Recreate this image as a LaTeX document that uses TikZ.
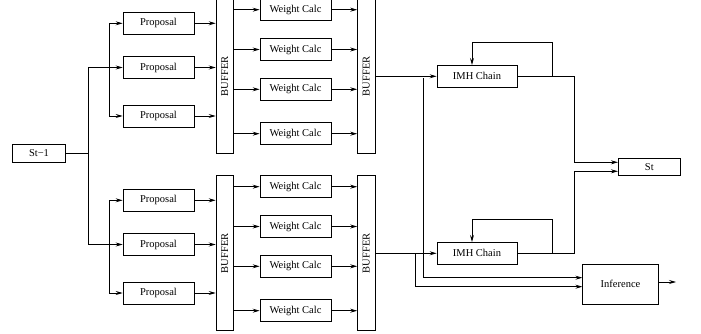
\documentclass[tikz,border=0pt]{standalone}
\usepackage{fontspec}
\setmainfont{Liberation Serif}
\usetikzlibrary{arrows.meta,calc,positioning}
\tikzset{
  blk/.style={draw,line width=.75pt,minimum height=22pt,inner sep=0pt,font=\fontsize{10.5}{12}\selectfont},
  prop/.style={blk,minimum width=71pt},
  wcalc/.style={blk,minimum width=71pt},
  buf/.style={blk,minimum width=17.5pt,minimum height=155pt},
  imh/.style={blk,minimum width=80pt},
  arr/.style={line width=.75pt,-{Stealth[length=7pt,width=4pt,inset=2.5pt]}},
  ln/.style={line width=.75pt}
}
\begin{document}
\begin{tikzpicture}[x=1pt,y=-1pt]
\useasboundingbox (0,0) rectangle (701,334);
% source state
\node[blk,minimum width=53.5pt,minimum height=18.4pt] (st0) at (39,153.5) {St−1};
% upper and lower particle groups
\foreach \g/\dy in {a/0,b/177}{
  \node[prop] (prop-\g1) at (158.5,23.3+\dy) {Proposal};
  \node[prop] (prop-\g2) at (158.5,67.5+\dy) {Proposal};
  \node[prop] (prop-\g3) at (158.5,116+\dy) {Proposal};
  \node[buf] (buf-\g1) at (224.8,76.2+\dy) {\rotatebox{90}{BUFFER}};
  \node[wcalc] (wc-\g1) at (295.5,9.7+\dy) {Weight Calc};
  \node[wcalc] (wc-\g2) at (295.5,49.5+\dy) {Weight Calc};
  \node[wcalc] (wc-\g3) at (295.5,89.3+\dy) {Weight Calc};
  \node[wcalc] (wc-\g4) at (295.5,133.7+\dy) {Weight Calc};
  \node[buf] (buf-\g2) at (366.3,76.2+\dy) {\rotatebox{90}{BUFFER}};
  \node[imh] (imh-\g) at (477,76.3+\dy) {IMH Chain};
  % fan out to the proposals
  \draw[arr] ([xshift=-13pt]prop-\g2.west) |- (prop-\g1.west);
  \draw[arr] ([xshift=-13pt]prop-\g2.west) |- (prop-\g3.west);
  \foreach \i in {1,2,3}
    \draw[arr] (prop-\g\i.east) -- (prop-\g\i.east -| buf-\g1.west);
  \foreach \i in {1,...,4}{
    \draw[arr] (wc-\g\i.west -| buf-\g1.east) -- (wc-\g\i.west);
    \draw[arr] (wc-\g\i.east) -- (wc-\g\i.east -| buf-\g2.west);
  }
  \draw[arr] (buf-\g2.east |- imh-\g.west) -- (imh-\g.west);
  % chain feedback
  \draw[arr] ([xshift=35pt]imh-\g.east) -- ++(0,-34) -| ([xshift=-5pt]imh-\g.north);
}
\draw[arr] (st0.east) -- ++(22,0) |- (prop-a2.west);
\draw[arr] (st0.east) ++(22,0) |- (prop-b2.west);
% outputs
\node[blk,minimum width=62pt,minimum height=17.7pt] (st) at (649.3,166.8) {St};
\node[blk,minimum width=75.6pt,minimum height=39.7pt] (inf) at (620.5,284.2) {Inference};
\draw[arr] (imh-a.east) -- ++(57,0) |- ([yshift=4.5pt]st.west);
\draw[arr] (imh-b.east) -- ++(57,0) |- ([yshift=-4.5pt]st.west);
\coordinate (tap) at (423.3,78.3);
\draw[arr] (tap) |- ([yshift=6.5pt]inf.west);
\draw[arr] ($(buf-b2.east |- imh-b.west)+(40,0)$) |- ([yshift=-2.5pt]inf.west);
\coordinate (res) at (676,282);
\draw[arr] (inf.east |- res) -- (res);
\end{tikzpicture}
\end{document}
